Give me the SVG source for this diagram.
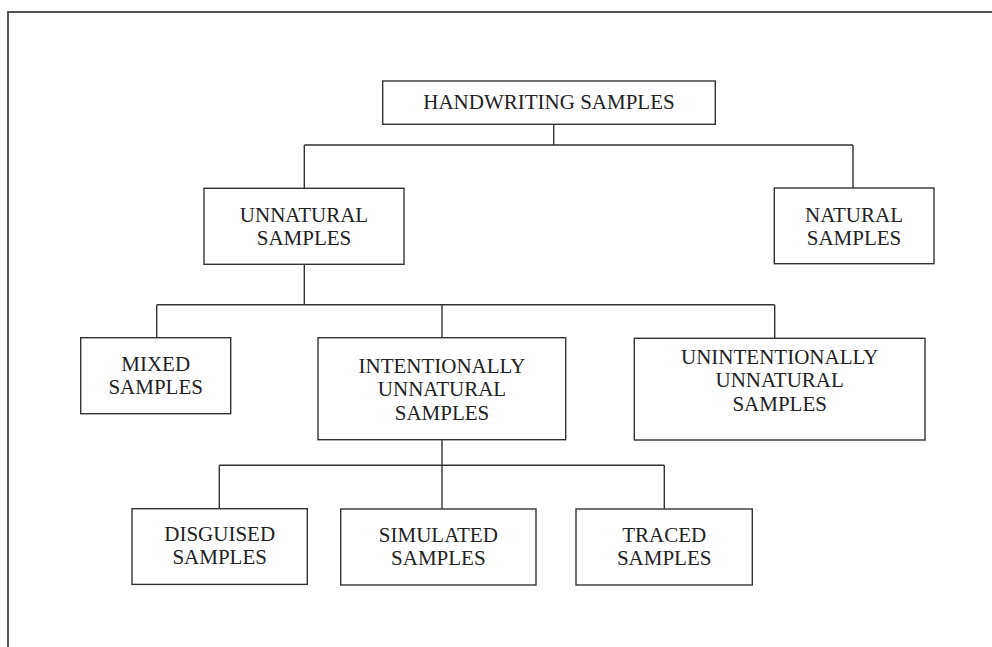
<svg xmlns="http://www.w3.org/2000/svg" width="992" height="647" viewBox="0 0 992 647">
<style>
.box{fill:#fff;stroke:#333;stroke-width:1.4}
.ln{fill:none;stroke:#333;stroke-width:1.4}
.frame{fill:none;stroke:#555;stroke-width:2}
text{font-family:"Liberation Serif","Times New Roman",serif;font-size:21px;fill:#222;text-anchor:middle}
</style>
<rect width="992" height="647" fill="#fff"/>
<path class="frame" d="M8,647 V12 H992"/>
<g id="connectors">
<path class="ln" d="M553.7,124.3 V145 M304.3,145 H853 M304.3,145 V188.3 M853,145 V188"/>
<path class="ln" d="M304.3,264.3 V304.7 M156.7,304.7 H774.7 M156.7,304.7 V337.7 M442,304.7 V337.7 M774.7,304.7 V338.3"/>
<path class="ln" d="M442,439.7 V465.3 M219.3,465.3 H664.3 M219.3,465.3 V508.7 M442,465.3 V509 M664.3,465.3 V509"/>
</g>
<g id="handwriting">
<rect class="box" x="382.7" y="81" width="332.6" height="43.3"/>
<text x="549" y="109.3">HANDWRITING SAMPLES</text>
</g>
<g id="unnatural">
<rect class="box" x="204" y="188.3" width="200" height="76"/>
<text x="304" y="222.3">UNNATURAL</text>
<text x="304" y="245.3">SAMPLES</text>
</g>
<g id="natural">
<rect class="box" x="774.3" y="188" width="159.7" height="75.7"/>
<text x="854" y="222.3">NATURAL</text>
<text x="854" y="245.3">SAMPLES</text>
</g>
<g id="mixed">
<rect class="box" x="80.7" y="337.7" width="150" height="76"/>
<text x="155.7" y="371">MIXED</text>
<text x="155.7" y="394.3">SAMPLES</text>
</g>
<g id="intentionally">
<rect class="box" x="318" y="337.7" width="247.7" height="102"/>
<text x="442" y="372.7">INTENTIONALLY</text>
<text x="442" y="396.3">UNNATURAL</text>
<text x="442" y="419.5">SAMPLES</text>
</g>
<g id="unintentionally">
<rect class="box" x="634.3" y="338.3" width="290.7" height="101.7"/>
<text x="779.7" y="364">UNINTENTIONALLY</text>
<text x="779.7" y="387.3">UNNATURAL</text>
<text x="779.7" y="410.7">SAMPLES</text>
</g>
<g id="disguised">
<rect class="box" x="132" y="508.7" width="175.3" height="75.7"/>
<text x="219.7" y="541">DISGUISED</text>
<text x="219.7" y="564.3">SAMPLES</text>
</g>
<g id="simulated">
<rect class="box" x="340.7" y="509" width="195.3" height="76"/>
<text x="438.3" y="541.7">SIMULATED</text>
<text x="438.3" y="565">SAMPLES</text>
</g>
<g id="traced">
<rect class="box" x="576" y="509" width="176.3" height="76"/>
<text x="664.2" y="541.7">TRACED</text>
<text x="664.2" y="565">SAMPLES</text>
</g>
</svg>
